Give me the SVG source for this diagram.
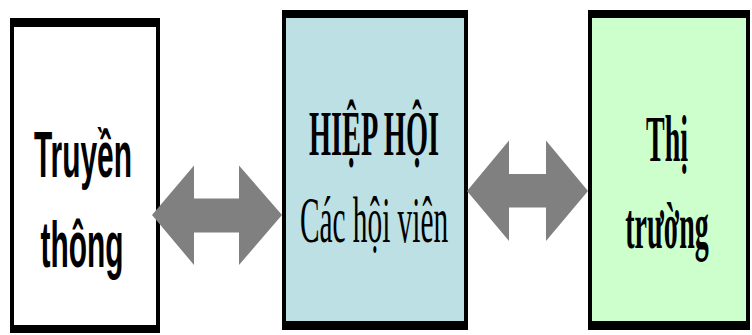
<svg xmlns="http://www.w3.org/2000/svg" width="752" height="335" viewBox="0 0 752 335">
<style>
.sans{font-family:"Liberation Sans",Arial,sans-serif;font-weight:bold;fill:#000}
.serif{font-family:"Liberation Serif","Times New Roman",serif;fill:#000}
.b{font-weight:bold}
.arrow{fill:#808080}
</style>
<rect width="752" height="335" fill="#ffffff"/>
<g id="truyen-thong">
<rect x="10" y="18" width="150" height="315" fill="#000"/>
<rect x="14" y="27" width="142" height="298" fill="#ffffff"/>
<text class="sans" text-anchor="middle" font-size="65" transform="translate(83,177) scale(0.46,1)">Truyền</text>
<text class="sans" text-anchor="middle" font-size="65" transform="translate(82,267) scale(0.46,1)">thông</text>
</g>
<g id="hiep-hoi">
<rect x="282" y="10" width="186" height="320" fill="#000"/>
<rect x="286" y="18" width="178" height="303" fill="#BCE0E3"/>
<text class="serif b" text-anchor="middle" font-size="63" transform="translate(374,155) scale(0.45,1)">HIỆP HỘI</text>
<text class="serif" text-anchor="middle" font-size="66" transform="translate(374,242) scale(0.444,1)">Các hội viên</text>
</g>
<g id="thi-truong">
<rect x="588" y="10" width="162" height="320" fill="#000"/>
<rect x="592" y="18" width="154" height="303" fill="#CCFFCC"/>
<text class="serif b" text-anchor="middle" font-size="65" transform="translate(667,161) scale(0.43,1)">Thị</text>
<text class="serif b" text-anchor="middle" font-size="65" transform="translate(667,248) scale(0.43,1)">trường</text>
</g>
<g id="connectors">
<polygon class="arrow" points="152,215 194,165.5 194,198.5 239,198.5 239,165.5 282,215 239,265 239,232.5 194,232.5 194,265"/>
<polygon class="arrow" points="467,191 509,140.5 509,174 546,174 546,140.5 588,191 546,241 546,207.5 509,207.5 509,241"/>
</g>
</svg>
